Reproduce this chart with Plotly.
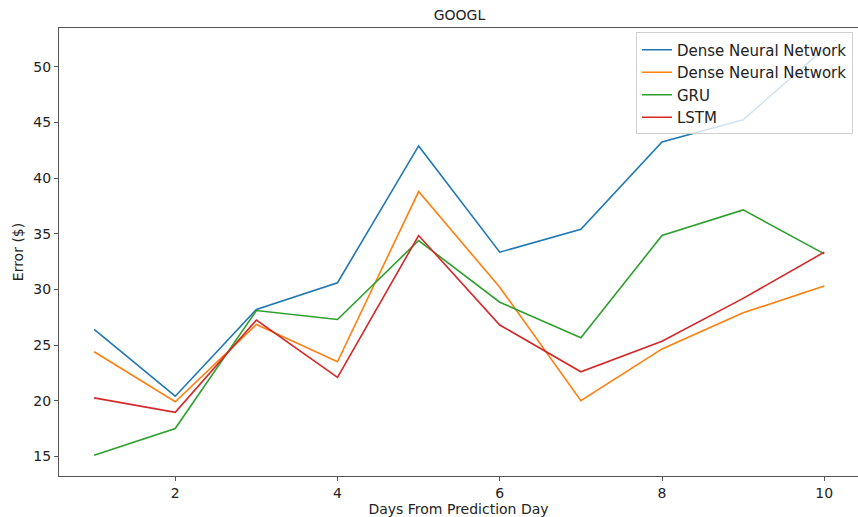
import plotly.graph_objects as go

days = [1, 2, 3, 4, 5, 6, 7, 8, 9, 10]
dense_a = [26.4, 20.4, 28.2, 30.6, 42.9, 33.35, 35.4, 43.25, 45.25, 51.65]
dense_b = [24.4, 19.9, 26.85, 23.5, 38.8, 30.2, 20.0, 24.65, 27.9, 30.3]
gru = [15.1, 17.5, 28.1, 27.3, 34.4, 28.85, 25.65, 34.85, 37.15, 33.2]
lstm = [20.25, 18.95, 27.25, 22.1, 34.85, 26.8, 22.6, 25.35, 29.2, 33.35]

series = [
    ("Dense Neural Network", dense_a, "#1f77b4"),
    ("Dense Neural Network", dense_b, "#ff7f0e"),
    ("GRU", gru, "#2ca02c"),
    ("LSTM", lstm, "#d62728"),
]

fig = go.Figure()
for name, vals, color in series:
    fig.add_trace(go.Scatter(x=days, y=vals, mode="lines", name=name,
                             line=dict(color=color, width=1.6)))

axis_common = dict(showgrid=False, zeroline=False, showline=True,
                   linecolor="#555555", linewidth=1.2, ticks="outside",
                   ticklen=4, tickcolor="#555555",
                   tickfont=dict(family="DejaVu Sans", size=14, color="#222222"))

fig.update_layout(
    width=858, height=517,
    margin=dict(l=59, r=0, t=28, b=41, pad=0),
    paper_bgcolor="white", plot_bgcolor="white",
    font=dict(family="DejaVu Sans", color="#222222"),
    title=dict(text="GOOGL", x=459.5 / 858, xanchor="center",
               y=1 - 15.5 / 517, yanchor="middle",
               font=dict(size=14, family="DejaVu Sans", color="#222222")),
    xaxis=dict(range=[0.567, 10.416], tickvals=[2, 4, 6, 8, 10], mirror=True,
               title=dict(text="Days From Prediction Day", standoff=7,
                          font=dict(size=14, family="DejaVu Sans")),
               **axis_common),
    yaxis=dict(range=[13.23, 53.5], tickvals=[15, 20, 25, 30, 35, 40, 45, 50],
               mirror=False,
               title=dict(text="Error ($)", standoff=6,
                          font=dict(size=14, family="DejaVu Sans")),
               **axis_common),
    legend=dict(x=0.9937, xanchor="right", y=0.99, yanchor="top",
                bgcolor="rgba(255,255,255,0.8)", bordercolor="#d0d0d0",
                borderwidth=1, font=dict(size=15, family="DejaVu Sans"),
                tracegroupgap=0, itemwidth=30),
    showlegend=True,
)

fig.write_html("out.html")
